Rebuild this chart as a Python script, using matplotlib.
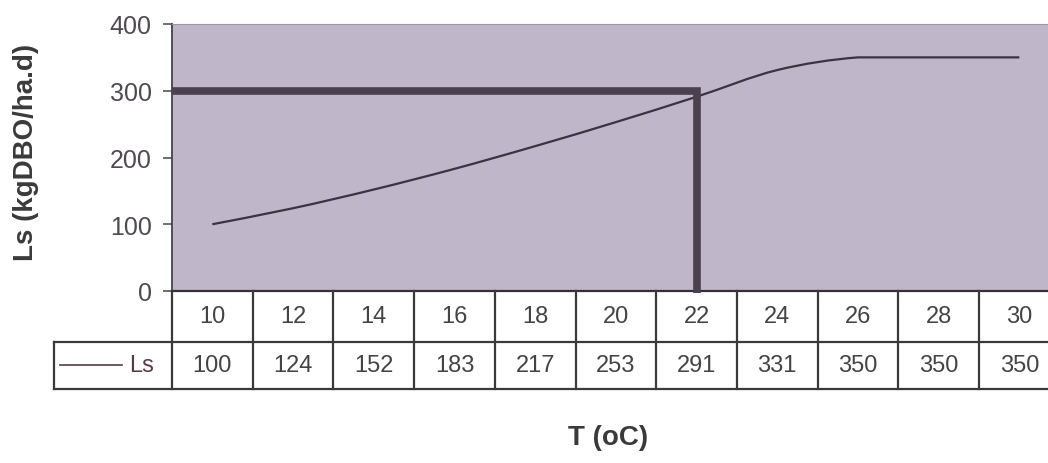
import numpy as np
import matplotlib.pyplot as plt
from matplotlib.path import Path
from matplotlib.patches import PathPatch

plt.rcParams['font.family'] = ['Liberation Sans', 'DejaVu Sans']

temps = [10, 12, 14, 16, 18, 20, 22, 24, 26, 28, 30]
ls_vals = [100, 124, 152, 183, 217, 253, 291, 331, 350, 350, 350]
design_T = 22
design_Ls = 300
yticks = [0, 100, 200, 300, 400]

W, H = 1048, 464
fig = plt.figure(figsize=(W / 100, H / 100), dpi=100)


def fx(px):
    return px / W


def fy(py):
    return 1 - py / H


# column width in px, the plot runs a bit past the image edge like the scan
col = 80.7
x0 = 172
x1 = x0 + col * len(temps)

ax = fig.add_axes([fx(x0), fy(292), fx(x1) - fx(x0), fy(25) - fy(292)])
ax.set_facecolor('#c0b6ca')
x = np.arange(len(temps))
y = np.array(ls_vals, dtype=float)

# excel-like smoothed line: bezier segments through the data points
# (control points kept inside each segment's y range so the plateau stays flat)
verts = [(x[0], y[0])]
codes = [Path.MOVETO]
n = len(x)
for i in range(n - 1):
    p0 = np.array([x[max(i - 1, 0)], y[max(i - 1, 0)]])
    p1 = np.array([x[i], y[i]])
    p2 = np.array([x[i + 1], y[i + 1]])
    p3 = np.array([x[min(i + 2, n - 1)], y[min(i + 2, n - 1)]])
    c1 = p1 + (p2 - p0) / 6
    c2 = p2 - (p3 - p1) / 6
    lo, hi = min(p1[1], p2[1]), max(p1[1], p2[1])
    c1[1] = np.clip(c1[1], lo, hi)
    c2[1] = np.clip(c2[1], lo, hi)
    verts += [tuple(c1), tuple(c2), tuple(p2)]
    codes += [Path.CURVE4] * 3
ax.add_patch(PathPatch(Path(verts, codes), fill=False, edgecolor='#3a3340', lw=1.6, zorder=3))

# design reading: 300 kgDBO/ha.d -> 22 oC
i22 = temps.index(design_T)
ax.plot([-0.5, i22, i22], [design_Ls, design_Ls, -3], color='#4a4150', lw=5.5,
        solid_joinstyle='miter', solid_capstyle='butt', clip_on=False, zorder=4)

ax.set_xlim(-0.5, len(temps) - 0.5)
ax.set_ylim(0, 400)
ax.set_yticks(yticks)
ax.set_xticks([])
ax.tick_params(axis='y', length=6.5, width=1.2, color='#555555', labelsize=18,
               labelcolor='#4e4a50', pad=8)
ax.spines['right'].set_visible(False)
ax.spines['top'].set_color('#9a96a0')
ax.spines['left'].set_color('#444444')
ax.spines['left'].set_linewidth(1.3)
ax.spines['bottom'].set_color('#333333')
ax.spines['bottom'].set_linewidth(1.6)

# data table under the chart
tax = fig.add_axes([fx(x0), fy(390), fx(x1) - fx(x0), fy(292) - fy(390)])
tax.set_xlim(-0.5, len(temps) - 0.5)
tax.set_ylim(0, 2)
tax.axis('off')
tc = '#3a3a3a'
lw = 1.6
for b in np.arange(len(temps) + 1) - 0.5:
    tax.plot([b, b], [0, 2], color=tc, lw=lw, clip_on=False)
left = -0.5 - 118 / col
tax.plot([left, len(temps) - 0.5], [0.96, 0.96], color=tc, lw=lw, clip_on=False)
tax.plot([left, len(temps) - 0.5], [0, 0], color=tc, lw=lw, clip_on=False)
tax.plot([left, left], [0, 0.96], color=tc, lw=lw, clip_on=False)
for i, (t, v) in enumerate(zip(temps, ls_vals)):
    tax.text(i, 1.48, str(t), ha='center', va='center', fontsize=17, color='#444444')
    tax.text(i, 0.48, str(v), ha='center', va='center', fontsize=17, color='#444444')
tax.plot([-0.5 - 112 / col, -0.5 - 50 / col], [0.48, 0.48], color='#5a3a48', lw=1.2, clip_on=False)
tax.text(-0.5 - 43 / col, 0.48, 'Ls', ha='left', va='center', fontsize=17, color='#5a3a48')

fig.text(fx(26), fy(152), 'Ls (kgDBO/ha.d)', rotation=90, ha='center', va='center',
         fontsize=20, fontweight='bold', color='#3a3a3a')
fig.text(fx(608), fy(438), 'T (oC)', ha='center', va='center',
         fontsize=20, fontweight='bold', color='#3a3a3a')

fig.savefig('out.png', dpi=100)
